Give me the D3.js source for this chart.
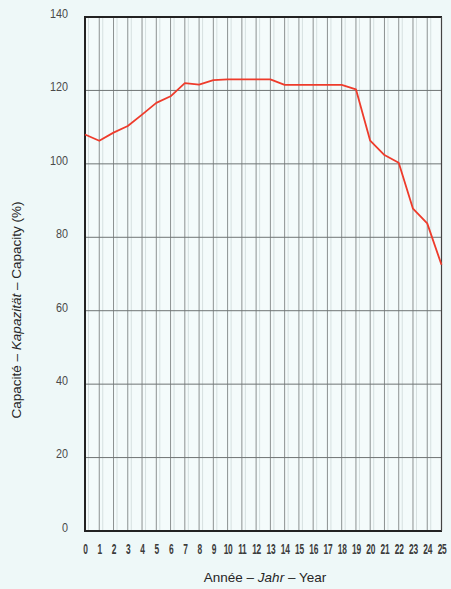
<!DOCTYPE html>
<html>
<head>
<meta charset="utf-8">
<script src="https://cdn.jsdelivr.net/npm/d3@7"></script>
<style>
  html, body { margin: 0; padding: 0; background: #eef8f8; }
  svg { display: block; }
</style>
</head>
<body>
<svg id="chart" width="451" height="589"></svg>
<script>
const years = d3.range(0, 26);
const capacity = [108, 106.3, 108.5, 110.3, 113.4, 116.6, 118.4, 122, 121.6, 122.8, 123, 123, 123, 123, 121.5, 121.5, 121.5, 121.5, 121.5, 120.3, 106.3, 102.4, 100.3, 87.8, 83.8, 72.5];
const yTicks = [0, 20, 40, 60, 80, 100, 120, 140];

const svg = d3.select("#chart");
const margin = { left: 85, right: 9.5, top: 17, bottom: 58 };
const W = 451, H = 589;
const x = d3.scaleLinear().domain([0, 25]).range([margin.left, W - margin.right]);
const y = d3.scaleLinear().domain([0, 140]).range([H - margin.bottom, margin.top]);

const sans = "'Liberation Sans', Arial, sans-serif";

svg.append("rect").attr("x", x(0)).attr("y", y(140))
  .attr("width", x(25) - x(0)).attr("height", y(0) - y(140))
  .attr("fill", "#f4fbfb");

// vertical grid
svg.append("g").selectAll("line").data(years).join("line")
  .attr("x1", d => x(d)).attr("x2", d => x(d))
  .attr("y1", y(140)).attr("y2", y(0))
  .attr("stroke", "#8c9191").attr("stroke-width", 1);
// faint shadow lines
svg.append("g").selectAll("line").data(years.slice(0, 25)).join("line")
  .attr("x1", d => x(d) + 3.5).attr("x2", d => x(d) + 3.5)
  .attr("y1", y(140)).attr("y2", y(0))
  .attr("stroke", "#d6e0e0").attr("stroke-width", 1);

// horizontal grid
svg.append("g").selectAll("line").data(yTicks).join("line")
  .attr("x1", x(0)).attr("x2", x(25))
  .attr("y1", d => y(d)).attr("y2", d => y(d))
  .attr("stroke", "#6f7474").attr("stroke-width", 1);

// frame
const fr = svg.append("g").attr("stroke", "#222").attr("fill", "none");
fr.append("line").attr("x1", x(0)).attr("x2", x(0)).attr("y1", y(140) - 1).attr("y2", y(0) + 1).attr("stroke-width", 2);
fr.append("line").attr("x1", x(0) - 1).attr("x2", x(25) + 0.5).attr("y1", y(140)).attr("y2", y(140)).attr("stroke-width", 2);
fr.append("line").attr("x1", x(0) - 1).attr("x2", x(25) + 0.5).attr("y1", y(0)).attr("y2", y(0)).attr("stroke-width", 2);
fr.append("line").attr("x1", x(25)).attr("x2", x(25)).attr("y1", y(140)).attr("y2", y(0)).attr("stroke-width", 1.2).attr("stroke", "#444");

// y axis labels
const yAxis = d3.axisLeft(y).tickValues(yTicks).tickSize(0).tickPadding(0);
const gy = svg.append("g").attr("transform", `translate(${x(0) - 17},-4)`).call(yAxis);
gy.select(".domain").remove();
gy.selectAll("text").attr("font-family", sans).attr("font-size", 13.5)
  .attr("fill", "#4a4a4a").attr("transform", "scale(0.8,1)");

// x axis labels
const xAxis = d3.axisBottom(x).tickValues(years).tickFormat(d3.format("d")).tickSize(0).tickPadding(0);
const gx = svg.append("g").attr("transform", `translate(0,${y(0) + 13})`).call(xAxis);
gx.select(".domain").remove();
gx.selectAll("text").attr("font-family", sans).attr("font-size", 14)
  .attr("font-weight", "bold").attr("fill", "#3c3c3c")
  .attr("letter-spacing", -0.5).attr("transform", "scale(0.6,1)");

// data line
const line = d3.line().x((d, i) => x(years[i])).y(d => y(d));
svg.append("path").datum(capacity).attr("d", line)
  .attr("fill", "none").attr("stroke", "#ee3b2b").attr("stroke-width", 1.8)
  .attr("stroke-linejoin", "round");

// x title
const xt = svg.append("text").attr("x", 265).attr("y", 582)
  .attr("text-anchor", "middle").attr("font-family", sans)
  .attr("font-size", 13.5).attr("fill", "#262626");
xt.append("tspan").text("Année – ");
xt.append("tspan").attr("font-style", "italic").text("Jahr");
xt.append("tspan").text(" – Year");

// y title
const yt = svg.append("text").attr("transform", "translate(21,310) rotate(-90)")
  .attr("text-anchor", "middle").attr("font-family", sans)
  .attr("font-size", 13.5).attr("fill", "#262626");
yt.append("tspan").text("Capacité – ");
yt.append("tspan").attr("font-style", "italic").text("Kapazität");
yt.append("tspan").text(" – Capacity  (%)");
</script>
</body>
</html>
